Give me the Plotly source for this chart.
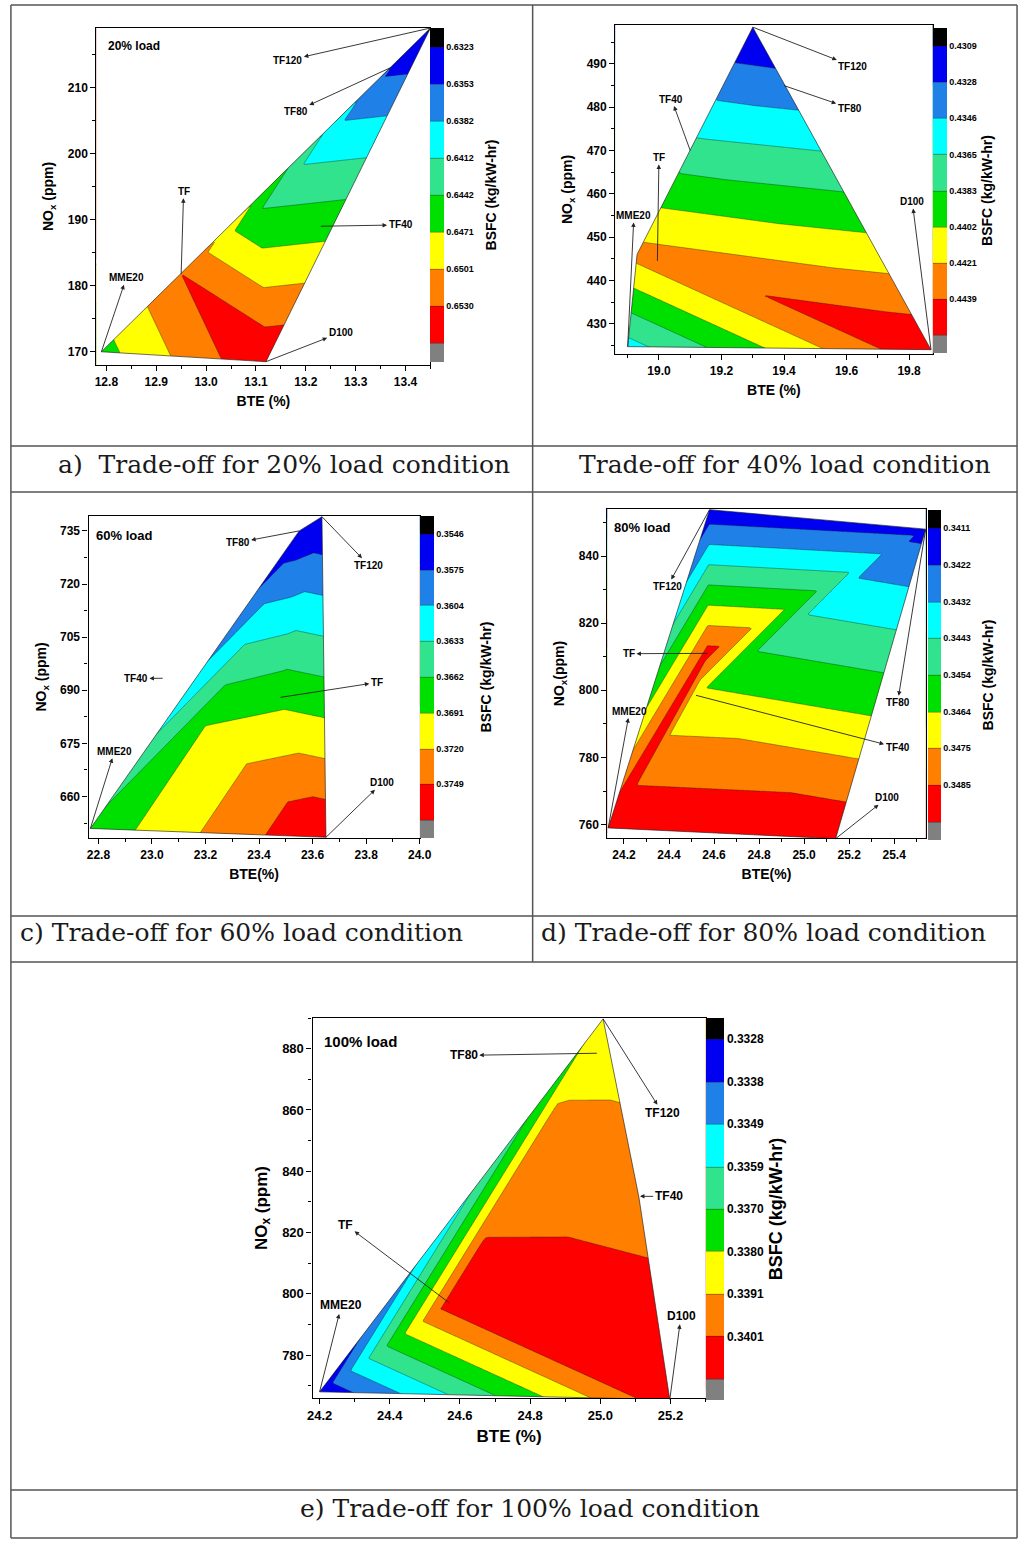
import numpy as np
import plotly.graph_objects as go

W, H = 1032, 1541
FUELS = ["MME20", "TF", "TF40", "TF80", "TF120", "D100"]

# ---------------- data: fuel points (order follows FUELS) -----------------
# (a) 20 % load
a_bte = [12.79, 12.95, 13.11, 13.37, 13.45, 13.12]
a_nox = [170.0, 181.8, 191.5, 213.0, 219.0, 168.5]
a_bsfc = [0.6460, 0.6530, 0.6442, 0.6355, 0.6320, 0.6556]
a_levels = ["0.6323", "0.6353", "0.6382", "0.6412", "0.6442", "0.6471", "0.6501", "0.6530"]
a_mesh = [(0, 5, 1), (1, 5, 2), (2, 5, 4), (1, 2, 3), (2, 4, 3)]

# (b) 40 % load
b_bte = [18.90, 18.93, 19.10, 19.40, 19.30, 19.87]
b_nox = [424.7, 446.0, 470.0, 485.0, 498.5, 424.0]
b_bsfc = [0.4358, 0.4427, 0.4371, 0.4335, 0.4310, 0.4455]
b_levels = ["0.4309", "0.4328", "0.4346", "0.4365", "0.4383", "0.4402", "0.4421", "0.4439"]
b_mesh = [(0, 5, 1), (1, 5, 2), (2, 5, 3), (2, 3, 4), (1, 2, 4)]

# (c) 60 % load
c_bte = [22.77, 23.48, 23.20, 23.55, 23.635, 23.65]
c_nox = [651.0, 688.0, 680.0, 735.0, 739.0, 648.5]
c_bsfc = [0.3671, 0.3683, 0.3691, 0.3552, 0.3548, 0.3776]
c_levels = ["0.3546", "0.3575", "0.3604", "0.3633", "0.3662", "0.3691", "0.3720", "0.3749"]
c_mesh = [(0, 5, 2), (2, 5, 1), (1, 5, 4), (1, 4, 3), (2, 1, 3), (0, 2, 3)]

# (d) 80 % load
d_bte = [24.13, 24.57, 24.52, 25.54, 24.58, 25.14]
d_nox = [759.0, 811.0, 798.5, 848.0, 853.8, 755.8]
d_bsfc = [0.3494, 0.3489, 0.3466, 0.3418, 0.3414, 0.3494]
d_levels = ["0.3411", "0.3422", "0.3432", "0.3443", "0.3454", "0.3464", "0.3475", "0.3485"]
d_mesh = [(0, 1, 4), (0, 2, 1), (1, 2, 3), (1, 3, 4), (0, 5, 2), (2, 5, 3)]

# (e) 100 % load
e_bte = [24.20, 24.57, 25.11, 24.99, 25.008, 25.198]
e_nox = [768.0, 797.0, 831.5, 878.5, 889.7, 765.5]
e_bsfc = [0.3331, 0.3406, 0.3398, 0.3387, 0.3384, 0.3408]
e_levels = ["0.3328", "0.3338", "0.3349", "0.3359", "0.3370", "0.3380", "0.3391", "0.3401"]
e_mesh = [(0, 5, 1), (1, 5, 2), (1, 2, 3), (3, 2, 4), (1, 3, 4), (0, 1, 4)]

# fuel label annotations: (text, label x, label y, arrow target, arrow-head side)
a_notes = [("TF120", 13.164, 214.1, "TF120", "start"),
           ("TF80", 13.18, 206.4, "TF80", "start"),
           ("TF", 12.955, 194.3, "TF", "start"),
           ("TF40", 13.39, 189.2, (13.23, 189.0), "start"),
           ("MME20", 12.84, 181.2, "MME20", "start"),
           ("D100", 13.27, 172.9, "D100", "start")]
b_notes = [("TF120", 19.62, 489.5, "TF120", "start"),
           ("TF80", 19.61, 479.8, "TF80", "start"),
           ("TF40", 19.04, 481.9, "TF40", "start"),
           ("TF", 19.0, 468.4, (18.995, 444.5), "start"),
           ("MME20", 18.92, 455.0, "MME20", "start"),
           ("D100", 19.81, 458.2, "D100", "start")]
c_notes = [("TF80", 23.32, 731.7, "TF80", "start"),
           ("TF120", 23.81, 725.3, "TF120", "start"),
           ("TF40", 22.94, 693.3, (23.04, 693.4), "start"),
           ("TF", 23.84, 692.2, "TF", "start"),
           ("MME20", 22.86, 672.8, "MME20", "start"),
           ("D100", 23.86, 663.9, "D100", "start")]
d_notes = [("TF120", 24.393, 830.9, "TF120", "start"),
           ("TF", 24.222, 810.9, "TF", "start"),
           ("MME20", 24.225, 793.8, "MME20", "start"),
           ("TF80", 25.415, 796.3, "TF80", "start"),
           ("TF40", 25.415, 782.9, "TF40", "start"),
           ("D100", 25.37, 768.0, "D100", "start")]
e_notes = [("TF80", 24.611, 877.8, "TF80", "start"),
           ("TF120", 25.178, 858.9, "TF120", "start"),
           ("TF40", 25.195, 831.8, (25.113, 831.8), "end"),
           ("TF", 24.274, 822.6, "TF", "start"),
           ("MME20", 24.262, 796.2, "MME20", "start"),
           ("D100", 25.23, 792.8, "D100", "start")]

CAPTIONS = ["a)\u00a0 Trade-off for 20% load condition",
            "Trade-off for 40% load condition",
            "c) Trade-off for 60% load condition",
            "d) Trade-off for 80% load condition",
            "e) Trade-off for 100% load condition"]

# band colours: highest BSFC (grey) ... lowest BSFC (black)
BAND_COLORS = ["#808080", "#ff0000", "#ff8000", "#ffff00", "#00e000",
               "#30e38c", "#00ffff", "#1f80e8", "#0000f0", "#000000"]

FONT = "Liberation Sans"

PANELS = [
    dict(bte=a_bte, nox=a_nox, bsfc=a_bsfc, levels=a_levels, mesh=a_mesh, notes=a_notes,
         frame=(92, 432, 28, 365), xr=(12.78, 13.45), yr=(168, 219),
         xt=(12.8, 0.1, 0.05), yt=(170, 10, 5), cb=(432, 14, 28, 362),
         xtitle="BTE (%)", ytitle="NO<sub>x</sub> (ppm)",
         load=("20% load", 12.80, 216.3, 12), fs=(12, 14, 9, 14, 10), pad=3),
    dict(bte=b_bte, nox=b_nox, bsfc=b_bsfc, levels=b_levels, mesh=b_mesh, notes=b_notes,
         frame=(620, 943, 25, 354), xr=(18.86, 19.875), yr=(423, 499),
         xt=(19.0, 0.2, 0.1), yt=(430, 10, 5), cb=(943, 14, 28, 353),
         xtitle="BTE (%)", ytitle="NO<sub>x</sub> (ppm)",
         load=None, fs=(12, 14, 9, 14, 10), pad=0),
    dict(bte=c_bte, nox=c_nox, bsfc=c_bsfc, levels=c_levels, mesh=c_mesh, notes=c_notes,
         frame=(84, 421, 516, 838), xr=(22.763, 24.0), yr=(648.3, 739.2),
         xt=(22.8, 0.2, 0.1), yt=(660, 15, 7.5), cb=(421, 14, 516, 838),
         xtitle="BTE(%)", ytitle="NO<sub>x</sub> (ppm)",
         load=("60% load", 22.784, 733.6, 13), fs=(12, 14, 9, 14, 10), pad=5),
    dict(bte=d_bte, nox=d_nox, bsfc=d_bsfc, levels=d_levels, mesh=d_mesh, notes=d_notes,
         frame=(612, 936, 509, 838), xr=(24.126, 25.54), yr=(756, 854),
         xt=(24.2, 0.2, 0.1), yt=(760, 20, 10), cb=(938, 13, 510, 840),
         xtitle="BTE(%)", ytitle="NO<sub>x</sub>(ppm)",
         load=("80% load", 24.145, 848.4, 13), fs=(12, 14, 9, 14, 10), pad=3),
    dict(bte=e_bte, nox=e_nox, bsfc=e_bsfc, levels=e_levels, mesh=e_mesh, notes=e_notes,
         frame=(312, 712, 1018, 1398), xr=(24.18, 25.3), yr=(766, 890),
         xt=(24.2, 0.2, 0.1), yt=(780, 20, 10), cb=(712, 18, 1018, 1400),
         xtitle="BTE (%)", ytitle="NO<sub>x</sub> (ppm)",
         load=("100% load", 24.207, 882.2, 15), fs=(13, 17, 12, 18, 12), pad=0),
]


def field(bte, nox, bsfc, mesh, xr, yr, n=240):
    """Linear interpolation of BSFC over the triangulated fuel points."""
    gx = np.linspace(xr[0], xr[1], n)
    gy = np.linspace(yr[0], yr[1], n)
    X, Y = np.meshgrid(gx, gy)
    px, py, pz = (np.asarray(v, float) for v in (bte, nox, bsfc))
    Z = np.zeros_like(X)
    best = np.full(X.shape, -np.inf)
    for i, j, k in mesh:
        x1, y1, x2, y2, x3, y3 = px[i], py[i], px[j], py[j], px[k], py[k]
        det = (y2 - y3) * (x1 - x3) + (x3 - x2) * (y1 - y3)
        if abs(det) < 1e-12:
            continue
        l1 = ((y2 - y3) * (X - x3) + (x3 - x2) * (Y - y3)) / det
        l2 = ((y3 - y1) * (X - x3) + (x1 - x3) * (Y - y3)) / det
        l3 = 1 - l1 - l2
        m = np.minimum(np.minimum(l1, l2), l3)
        v = l1 * pz[i] + l2 * pz[j] + l3 * pz[k]
        upd = m > best
        Z[upd] = v[upd]
        best[upd] = m[upd]
    return gx, gy, Z


def convex_hull(xs, ys):
    pts = sorted(set(zip(xs, ys)))

    def cross(o, a, b):
        return (a[0] - o[0]) * (b[1] - o[1]) - (a[1] - o[1]) * (b[0] - o[0])
    lower, upper = [], []
    for p in pts:
        while len(lower) >= 2 and cross(lower[-2], lower[-1], p) <= 0:
            lower.pop()
        lower.append(p)
    for p in reversed(pts):
        while len(upper) >= 2 and cross(upper[-2], upper[-1], p) <= 0:
            upper.pop()
        upper.append(p)
    return lower[:-1] + upper[:-1]


fig = go.Figure()
colorscale = [[k / 9, c] for k, c in enumerate(BAND_COLORS)]
annotations = []
shapes = []

for idx, P in enumerate(PANELS, start=1):
    sfx = "" if idx == 1 else str(idx)
    xa, ya = "x" + sfx, "y" + sfx
    tick_fs, title_fs, cb_fs, cbt_fs, lab_fs = P["fs"]
    lv = [float(s) for s in P["levels"]]
    step = (lv[-1] - lv[0]) / 7.0
    gx, gy, Z = field(P["bte"], P["nox"], P["bsfc"], P["mesh"], P["xr"], P["yr"])
    cbx, cbth, cby0, cby1 = P["cb"]
    fig.add_trace(go.Contour(
        x=gx, y=gy, z=np.round(-Z, 6), xaxis=xa, yaxis=ya,
        autocontour=False,
        contours=dict(start=-(lv[0] + 8 * step), end=-lv[0], size=step,
                      coloring="fill", showlines=True),
        line=dict(width=0.6, color="rgba(20,20,20,0.6)"),
        colorscale=colorscale, hoverinfo="skip",
        colorbar=dict(
            x=cbx / W, xanchor="left", xpad=0,
            y=1 - cby1 / H, yanchor="bottom", ypad=0,
            len=(cby1 - cby0) / H, lenmode="fraction",
            thickness=cbth, thicknessmode="pixels", outlinewidth=0,
            tickmode="array", tickvals=[-(lv[0] + k * step) for k in range(8)],
            ticktext=[s + "\u00a0" * P["pad"] for s in P["levels"]], ticks="",
            tickfont=dict(family=FONT, size=cb_fs, color="black", weight="bold"),
            title=dict(text="BSFC (kg/kW-hr)", side="right",
                       font=dict(family=FONT, size=cbt_fs, color="black", weight="bold")),
        ),
    ))
    # white mask outside the data hull
    hull = convex_hull(P["bte"], P["nox"])
    x0, x1 = P["xr"][0] - 1, P["xr"][1] + 1
    y0, y1 = P["yr"][0] - 100, P["yr"][1] + 100
    hr = hull[::-1]
    mx = [x0, x1, x1, x0, x0] + [p[0] for p in hr] + [hr[0][0], x0]
    my = [y0, y0, y1, y1, y0] + [p[1] for p in hr] + [hr[0][1], y0]
    fig.add_trace(go.Scatter(x=mx, y=my, xaxis=xa, yaxis=ya, mode="lines",
                             fill="toself", fillcolor="white", line=dict(width=0),
                             hoverinfo="skip", showlegend=False))
    fig.add_trace(go.Scatter(x=[p[0] for p in hull] + [hull[0][0]],
                             y=[p[1] for p in hull] + [hull[0][1]],
                             xaxis=xa, yaxis=ya, mode="lines",
                             line=dict(width=0.8, color="rgba(30,30,30,0.8)"),
                             hoverinfo="skip", showlegend=False))

    fl, fr, ft, fb = P["frame"]
    axis_common = dict(showline=True, linecolor="black", linewidth=1.2, mirror=True,
                       ticks="outside", ticklen=5, tickwidth=1.2, tickcolor="black",
                       showgrid=False, zeroline=False,
                       tickfont=dict(family=FONT, size=tick_fs, color="black", weight="bold"))
    fig.layout["xaxis" + sfx] = dict(
        axis_common, domain=[fl / W, fr / W], anchor=ya, range=list(P["xr"]),
        tick0=P["xt"][0], dtick=P["xt"][1], tickformat=".1f",
        minor=dict(ticks="outside", ticklen=3, dtick=P["xt"][2], tickcolor="black"),
        title=dict(text=P["xtitle"], standoff=8,
                   font=dict(family=FONT, size=title_fs, color="black", weight="bold")))
    fig.layout["yaxis" + sfx] = dict(
        axis_common, domain=[1 - fb / H, 1 - ft / H], anchor=xa, range=list(P["yr"]),
        tick0=P["yt"][0], dtick=P["yt"][1],
        minor=dict(ticks="outside", ticklen=3, dtick=P["yt"][2], tickcolor="black"),
        title=dict(text=P["ytitle"], standoff=10,
                   font=dict(family=FONT, size=title_fs, color="black", weight="bold")))

    if P["load"]:
        txt, lx, ly, lfs = P["load"]
        annotations.append(dict(x=lx, y=ly, xref=xa, yref=ya, text="<b>%s</b>" % txt,
                                showarrow=False, xanchor="left",
                                font=dict(family=FONT, size=lfs, color="black")))
    for name, lx, ly, target, side in P["notes"]:
        if isinstance(target, str):
            ti = FUELS.index(target)
            tx, ty = P["bte"][ti], P["nox"][ti]
        else:
            tx, ty = target
        annotations.append(dict(x=tx, y=ty, ax=lx, ay=ly, xref=xa, yref=ya,
                                axref=xa, ayref=ya, text="<b>%s</b>" % name,
                                showarrow=True, arrowside=side,
                                arrowhead=2, arrowsize=1, startarrowhead=2,
                                startarrowsize=1, arrowwidth=0.9,
                                arrowcolor="#222222", standoff=0, startstandoff=0,
                                font=dict(family=FONT, size=lab_fs, color="black")))

# table grid
LC = "#555555"


def hline(y, xa_=5, xb_=1029):
    shapes.append(dict(type="line", xref="paper", yref="paper", x0=xa_ / W, x1=xb_ / W,
                       y0=1 - y / H, y1=1 - y / H, line=dict(color=LC, width=1.5)))


def vline(x, ya_, yb_):
    shapes.append(dict(type="line", xref="paper", yref="paper", x0=x / W, x1=x / W,
                       y0=1 - ya_ / H, y1=1 - yb_ / H, line=dict(color=LC, width=1.5)))


for yy in (5, 446, 492, 916, 962, 1490, 1538):
    hline(yy)
vline(5, 5, 1538)
vline(1029, 5, 1538)
vline(536, 5, 962)

cap_pos = [(283, 464), (793, 464), (240, 932), (771, 932), (533, 1508)]
for text, (cx, cy) in zip(CAPTIONS, cap_pos):
    annotations.append(dict(x=cx / W, y=1 - cy / H, xref="paper", yref="paper",
                            text=text, showarrow=False, xanchor="center", yanchor="middle",
                            font=dict(family="DejaVu Serif", size=25, color="#1a1a1a")))

fig.update_layout(width=W, height=H, margin=dict(l=0, r=0, t=0, b=0),
                  paper_bgcolor="white", plot_bgcolor="white", showlegend=False,
                  annotations=annotations, shapes=shapes)

fig.write_html("out.html")
